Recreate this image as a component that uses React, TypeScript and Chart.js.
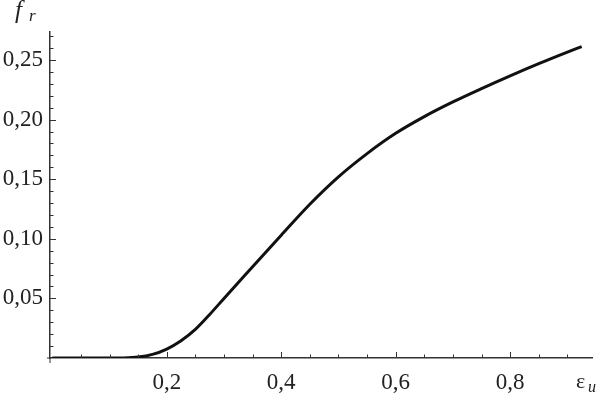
import React, { useEffect, useRef } from "react";
import { Chart, registerables } from "chart.js";

Chart.register(...registerables);

const epsU = [0, 0.05, 0.1, 0.125, 0.15, 0.175, 0.2, 0.225, 0.25, 0.275, 0.3, 0.35, 0.4, 0.45, 0.5, 0.55, 0.6, 0.65, 0.7, 0.75, 0.8, 0.85, 0.9, 0.925];
const fr = [0, 0, 0, 0.0001, 0.0008, 0.003, 0.0075, 0.0145, 0.024, 0.0365, 0.05, 0.0765, 0.103, 0.129, 0.152, 0.1715, 0.1885, 0.2025, 0.2148, 0.226, 0.2367, 0.2469, 0.2566, 0.2613];

const xMajorTicks = [0.2, 0.4, 0.6, 0.8];
const yMajorTicks = [0.05, 0.1, 0.15, 0.2, 0.25];
const xLabelText = "ε";
const xLabelSub = "u";
const yLabelText = "f";
const yLabelSub = "r";

const AXIS_COLOR = "#333";
const FONT = "Liberation Serif, Times New Roman, serif";

const tickPlugin = {
  id: "minorTicks",
  afterDraw(chart: any) {
    const ctx = chart.ctx;
    const xs = chart.scales.x;
    const ys = chart.scales.y;
    const left = chart.chartArea.left;
    const bottom = chart.chartArea.bottom;
    ctx.save();
    ctx.strokeStyle = AXIS_COLOR;
    ctx.lineWidth = 1;
    ctx.beginPath();
    ctx.moveTo(left, bottom);
    ctx.lineTo(left, bottom + 5);
    ctx.moveTo(left, bottom);
    ctx.lineTo(left - 3, bottom);
    ctx.stroke();
    for (let i = 1; i <= 27; i++) {
      const v = i / 100;
      const major = i % 5 === 0;
      const py = Math.round(ys.getPixelForValue(v)) + 0.5;
      ctx.beginPath();
      ctx.moveTo(left, py);
      ctx.lineTo(left + (major ? 6 : 3.5), py);
      ctx.stroke();
    }
    for (let i = 1; i <= 18; i++) {
      const v = i * 0.05;
      const major = i % 4 === 0;
      const px = Math.round(xs.getPixelForValue(v)) + 0.5;
      ctx.beginPath();
      ctx.moveTo(px, bottom);
      ctx.lineTo(px, bottom - (major ? 6 : 3.5));
      ctx.stroke();
    }
    ctx.fillStyle = "#222";
    ctx.textBaseline = "alphabetic";
    ctx.textAlign = "left";
    ctx.font = `italic 25px ${FONT}`;
    ctx.fillText(yLabelText, 15, 18);
    ctx.font = `italic 17px ${FONT}`;
    ctx.fillText(yLabelSub, 29, 21);
    ctx.font = `22px ${FONT}`;
    ctx.fillText(xLabelText, 576, 388);
    ctx.font = `italic 16px ${FONT}`;
    ctx.fillText(xLabelSub, 588, 392);
    ctx.restore();
  },
};

export default function App() {
  const ref = useRef<HTMLCanvasElement | null>(null);
  useEffect(() => {
    document.body.style.margin = "0";
    let chart: any = null;
    let cancelled = false;
    const build = () => {
      if (cancelled || !ref.current) return;
      chart = new Chart(ref.current, {
        type: "line",
        data: {
          datasets: [
            {
              data: epsU.map((x, i) => ({ x, y: fr[i] })),
              borderColor: "#111",
              borderWidth: 3,
              pointRadius: 0,
              cubicInterpolationMode: "monotone",
              fill: false,
            },
          ],
        },
        options: {
          animation: false,
          responsive: false,
          maintainAspectRatio: false,
          layout: { padding: { top: 32, right: 7, left: 0, bottom: 0 } },
          plugins: { legend: { display: false }, tooltip: { enabled: false } },
          scales: {
            x: {
              type: "linear",
              min: -0.004,
              max: 0.943,
              afterFit: (s: any) => {
                s.height = 36;
              },
              afterBuildTicks: (s: any) => {
                s.ticks = xMajorTicks.map((v) => ({ value: v }));
              },
              grid: { display: false, drawTicks: false },
              border: { display: true, color: AXIS_COLOR, width: 1.5 },
              ticks: {
                padding: 11,
                color: "#222",
                font: { family: FONT, size: 23 },
                maxRotation: 0,
                autoSkip: false,
                callback: (v: any) => Number(v).toFixed(1).replace(".", ","),
              },
            },
            y: {
              type: "linear",
              min: 0,
              max: 0.2735,
              afterFit: (s: any) => {
                s.width = 50;
              },
              afterBuildTicks: (s: any) => {
                s.ticks = yMajorTicks.map((v) => ({ value: v }));
              },
              grid: { display: false, drawTicks: false },
              border: { display: true, color: AXIS_COLOR, width: 1.5 },
              ticks: {
                padding: 7,
                color: "#222",
                font: { family: FONT, size: 23 },
                autoSkip: false,
                callback: (v: any) => Number(v).toFixed(2).replace(".", ","),
              },
            },
          },
        },
        plugins: [tickPlugin],
      });
    };
    const fonts: any = (document as any).fonts;
    if (fonts && fonts.load) {
      Promise.all([
        fonts.load('23px "Liberation Serif"'),
        fonts.load('italic 23px "Liberation Serif"'),
      ])
        .catch(() => null)
        .then(build);
    } else {
      build();
    }
    return () => {
      cancelled = true;
      if (chart) chart.destroy();
    };
  }, []);
  return (
    <div style={{ width: 599, height: 394, background: "#fff" }}>
      <canvas ref={ref} width={599} height={394} style={{ display: "block" }} />
    </div>
  );
}
